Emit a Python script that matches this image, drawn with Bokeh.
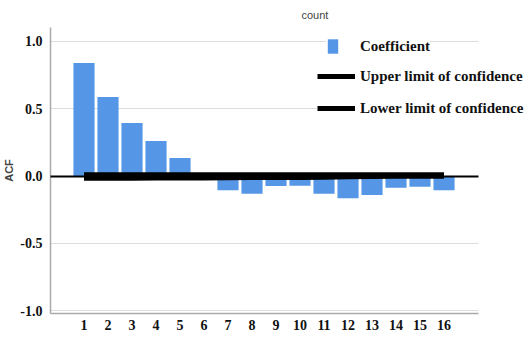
from bokeh.plotting import figure
from bokeh.models import FixedTicker, Legend, LegendItem, Grid, ColumnDataSource, CustomJSTickFormatter
from bokeh.embed import file_html
from bokeh.resources import INLINE

# ---- data ----
lags = [1, 2, 3, 4, 5, 6, 7, 8, 9, 10, 11, 12, 13, 14, 15, 16]
coefficient = [0.841, 0.588, 0.394, 0.260, 0.134, -0.005, -0.106, -0.131,
               -0.074, -0.072, -0.131, -0.166, -0.141, -0.087, -0.079, -0.106]
upper_limit = [0.009, 0.009, 0.009, 0.009, 0.009, 0.009, 0.009, 0.009,
               0.009, 0.009, 0.009, 0.009, 0.009, 0.009, 0.009, 0.009]
lower_limit = [-0.016, -0.016, -0.016, -0.015, -0.015, -0.014, -0.012, -0.011,
               -0.011, -0.011, -0.010, -0.006, -0.004, -0.002, -0.001, -0.001]
y_ticks = [-1.0, -0.5, 0.0, 0.5, 1.0]
x_ticks = lags

src = ColumnDataSource(dict(lag=lags, acf=coefficient, up=upper_limit, lo=lower_limit))

X0, X1 = -0.396, 17.44          # extent of the drawn axis area
p = figure(frame_width=478, frame_height=286, output_backend="svg", toolbar_location=None,
           x_range=(X0, 19.52), y_range=(-1.022, 1.104),
           min_border_left=42, min_border_right=0, min_border_top=19, min_border_bottom=0)

p.title.text = "count"
p.title.align = "left"
p.title.offset = 247
p.title.text_font = "Liberation Sans"
p.title.text_font_size = "11px"
p.title.text_font_style = "normal"
p.title.padding = 4
p.title.standoff = 5

p.outline_line_color = None
p.background_fill_color = "white"

bars = p.vbar(x="lag", top="acf", bottom=0, width=0.88, source=src,
              fill_color="#5596E6", line_color=None)

up = p.line(x="lag", y="up", source=src, line_color="black", line_width=5)
lo = p.line(x="lag", y="lo", source=src, line_color="black", line_width=5)

# axes
for ax in (p.xaxis[0], p.yaxis[0]):
    ax.axis_line_color = "#aaaaaa"
    ax.axis_line_width = 1.5
    ax.major_tick_line_color = None
    ax.minor_tick_line_color = None
    ax.major_label_text_font = "Liberation Serif"
    ax.major_label_text_font_style = "bold"
    ax.major_label_text_font_size = "14px"
    ax.major_label_text_color = "#111111"

p.xaxis.ticker = FixedTicker(ticks=x_ticks)
p.xaxis.major_label_standoff = 0
p.xaxis.bounds = (X0, X1)
p.yaxis.ticker = FixedTicker(ticks=y_ticks)
p.yaxis.major_label_standoff = 2
p.yaxis.formatter = CustomJSTickFormatter(code="return tick.toFixed(1);")
p.yaxis.axis_label = "ACF"
p.yaxis.axis_label_text_font = "Liberation Sans"
p.yaxis.axis_label_text_font_style = "bold"
p.yaxis.axis_label_text_font_size = "11px"
p.yaxis.axis_label_standoff = 2

p.xgrid.grid_line_color = None
p.ygrid.ticker = FixedTicker(ticks=[-1.0, -0.5, 0.5, 1.0])
p.ygrid.grid_line_color = "#dddddd"
p.ygrid.grid_line_width = 1
p.ygrid.cross_bounds = (X0, X1)

zero_line = Grid(dimension=1, ticker=FixedTicker(ticks=[0.0]), grid_line_color="black",
                 grid_line_width=2, cross_bounds=(X0, X1), level="annotation")
p.add_layout(zero_line)

common = dict(padding=0, margin=0, border_line_color=None, background_fill_color="white",
              background_fill_alpha=1.0, label_text_font="Liberation Serif",
              label_text_font_style="bold", label_text_font_size="15px",
              label_text_color="#111111")

leg1 = Legend(items=[LegendItem(label="Coefficient", renderers=[bars])],
              location=(276, 258), glyph_width=13, glyph_height=18,
              label_standoff=21, label_height=18, **common)
leg2 = Legend(items=[LegendItem(label="Upper limit of confidence", renderers=[up]),
                     LegendItem(label="Lower limit of confidence", renderers=[lo])],
              location=(267, 195), glyph_width=38, glyph_height=20,
              label_height=20, spacing=12, label_standoff=5, **common)
p.add_layout(leg1)
p.add_layout(leg2)

open("out.html", "w").write(file_html(p, INLINE))
